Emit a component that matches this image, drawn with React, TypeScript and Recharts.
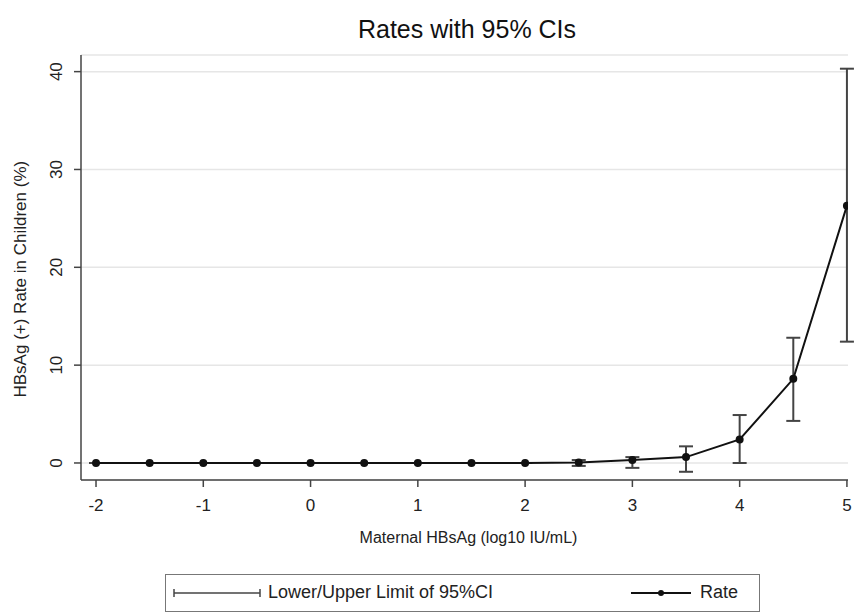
import { LineChart, Line, XAxis, YAxis, CartesianGrid, ErrorBar } from "recharts";

const logDose = [-2, -1.5, -1, -0.5, 0, 0.5, 1, 1.5, 2, 2.5, 3, 3.5, 4, 4.5, 5];
const rate = [0, 0, 0, 0, 0, 0, 0, 0, 0, 0.05, 0.3, 0.6, 2.4, 8.6, 26.3];
const lower = [0, 0, 0, 0, 0, 0, 0, 0, 0, -0.3, -0.5, -0.9, 0, 4.3, 12.4];
const upper = [0, 0, 0, 0, 0, 0, 0, 0, 0, 0.3, 0.6, 1.7, 4.9, 12.8, 40.3];
const xTicks = [-2, -1, 0, 1, 2, 3, 4, 5];
const yTicks = [0, 10, 20, 30, 40];

const data = logDose.map((x, i) => ({
    x,
    rate: rate[i],
    ci: [rate[i] - lower[i], upper[i] - rate[i]],
}));

const font = "'Liberation Sans', Arial, sans-serif";

// y tick labels are written vertically, like Stata does
const YTick = (props: any) => {
    const { x, y, payload } = props;
    return (
        <text
            x={x - 10}
            y={y}
            transform={`rotate(-90 ${x - 10} ${y})`}
            textAnchor="middle"
            fontSize={17}
            fill="#222"
            fontFamily={font}
        >
            {payload.value}
        </text>
    );
};

const App = () => (
    <div style={{ position: "absolute", left: 0, top: 0, width: 860, height: 615, background: "#fff", fontFamily: font }}>
        <div style={{ position: "absolute", left: 80, width: 774, top: 15, textAlign: "center", fontSize: 25, color: "#111" }}>
            Rates with 95% CIs
        </div>
        <LineChart
            width={860}
            height={615}
            data={data}
            margin={{ top: 55, right: 12, left: 0, bottom: 75 }}
        >
            <CartesianGrid vertical={false} stroke="#e6e6e6" strokeWidth={1.5} />
            <XAxis
                dataKey="x"
                type="number"
                domain={[-2.14, 5.01]}
                ticks={xTicks}
                allowDataOverflow
                stroke="#444"
                strokeWidth={1.5}
                tickSize={7}
                tick={{ fontSize: 17, fill: "#222", fontFamily: font, dy: 10 }}
                height={60}
                label={{ value: "Maternal HBsAg (log10 IU/mL)", position: "insideBottom", offset: 0, dx: 4, dy: 3, fontSize: 16, fill: "#222", fontFamily: font }}
            />
            <YAxis
                type="number"
                domain={[-1.74, 41.7]}
                ticks={yTicks}
                allowDataOverflow
                stroke="#444"
                strokeWidth={1.5}
                tickSize={7}
                width={81}
                tick={<YTick />}
                label={{ value: "HBsAg (+) Rate in Children (%)", angle: -90, position: "insideLeft", offset: 20, dy: 130, fontSize: 17, fill: "#222", fontFamily: font }}
            />
            <Line
                dataKey="rate"
                type="linear"
                stroke="#111"
                strokeWidth={2}
                dot={{ r: 3, fill: "#111", stroke: "#111" }}
                isAnimationActive={false}
            >
                <ErrorBar dataKey="ci" direction="y" width={7} stroke="#444" strokeWidth={2} />
            </Line>
        </LineChart>
        <div
            style={{
                position: "absolute",
                left: 165,
                top: 574,
                width: 595,
                height: 38,
                border: "1.5px solid #777",
                boxSizing: "border-box",
                fontSize: 18,
                color: "#222",
            }}
        >
            <svg width={92} height={20} style={{ position: "absolute", left: 5, top: 8 }}>
                <line x1={3} y1={10} x2={89} y2={10} stroke="#444" strokeWidth={1.5} />
                <line x1={3} y1={6} x2={3} y2={14} stroke="#444" strokeWidth={1.5} />
                <line x1={89} y1={6} x2={89} y2={14} stroke="#444" strokeWidth={1.5} />
            </svg>
            <span style={{ position: "absolute", left: 102, top: 7 }}>Lower/Upper Limit of 95%CI</span>
            <svg width={64} height={20} style={{ position: "absolute", left: 463, top: 8 }}>
                <line x1={2} y1={10} x2={62} y2={10} stroke="#111" strokeWidth={2} />
                <circle cx={32} cy={10} r={3} fill="#111" />
            </svg>
            <span style={{ position: "absolute", left: 534, top: 7 }}>Rate</span>
        </div>
    </div>
);

export default App;
